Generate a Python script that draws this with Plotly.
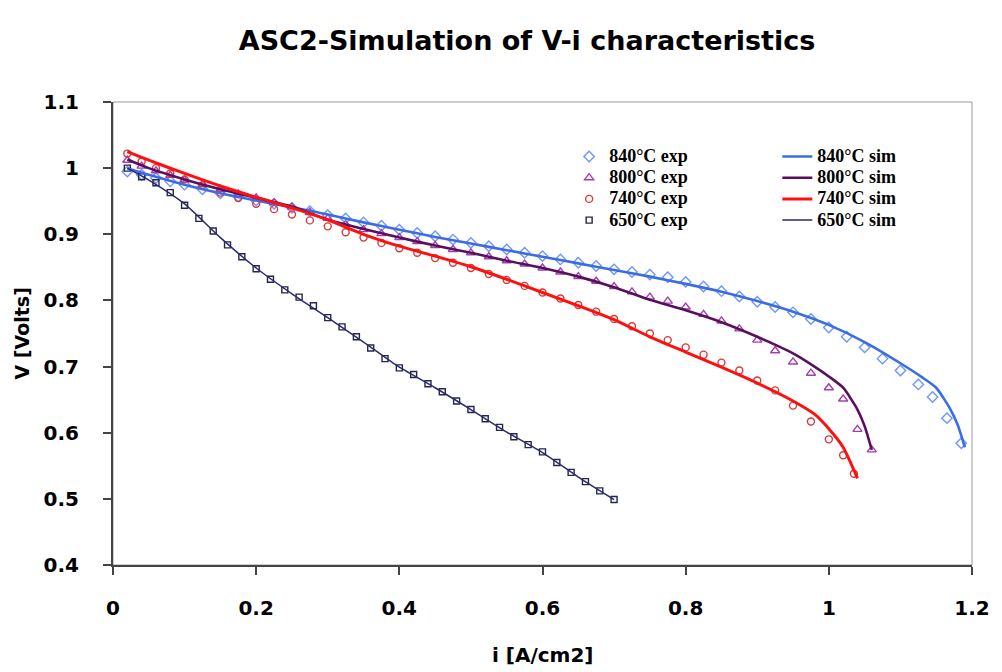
import plotly.graph_objects as go

# ---------------- data ----------------
x_ticks = [0, 0.2, 0.4, 0.6, 0.8, 1.0, 1.2]
x_tick_text = ["0", "0.2", "0.4", "0.6", "0.8", "1", "1.2"]
y_ticks = [0.4, 0.5, 0.6, 0.7, 0.8, 0.9, 1.0, 1.1]
y_tick_text = ["0.4", "0.5", "0.6", "0.7", "0.8", "0.9", "1", "1.1"]

# 840 C experimental
i_840_exp = [0.02, 0.04, 0.06, 0.08, 0.10, 0.125, 0.15, 0.175, 0.20, 0.225, 0.25, 0.275,
             0.30, 0.325, 0.35, 0.375, 0.40, 0.425, 0.45, 0.475, 0.50, 0.525, 0.55, 0.575,
             0.60, 0.625, 0.65, 0.675, 0.70, 0.725, 0.75, 0.775, 0.80, 0.825, 0.85, 0.875,
             0.90, 0.925, 0.95, 0.975, 1.00, 1.025, 1.05, 1.075, 1.10, 1.125, 1.145, 1.165, 1.185]
v_840_exp = [0.995, 0.990, 0.985, 0.980, 0.975, 0.968, 0.962, 0.957, 0.951, 0.946, 0.940, 0.935,
             0.929, 0.924, 0.918, 0.913, 0.907, 0.902, 0.897, 0.892, 0.887, 0.882, 0.877, 0.872,
             0.867, 0.862, 0.857, 0.852, 0.847, 0.843, 0.839, 0.835, 0.828, 0.821, 0.814, 0.806,
             0.798, 0.790, 0.782, 0.772, 0.759, 0.745, 0.729, 0.712, 0.694, 0.673, 0.654, 0.622, 0.584]

# 800 C experimental
i_800_exp = [0.02, 0.04, 0.06, 0.08, 0.10, 0.125, 0.15, 0.175, 0.20, 0.225, 0.25, 0.275,
             0.30, 0.325, 0.35, 0.375, 0.40, 0.425, 0.45, 0.475, 0.50, 0.525, 0.55, 0.575,
             0.60, 0.625, 0.65, 0.675, 0.70, 0.725, 0.75, 0.775, 0.80, 0.825, 0.85, 0.875,
             0.90, 0.925, 0.95, 0.975, 1.00, 1.02, 1.04, 1.06]
v_800_exp = [1.012, 1.003, 0.996, 0.989, 0.982, 0.975, 0.968, 0.961, 0.955, 0.948, 0.941, 0.933,
             0.924, 0.915, 0.907, 0.901, 0.895, 0.889, 0.883, 0.877, 0.872, 0.866, 0.860, 0.855,
             0.849, 0.843, 0.836, 0.829, 0.821, 0.813, 0.805, 0.799, 0.790, 0.779, 0.769, 0.757,
             0.740, 0.724, 0.707, 0.690, 0.668, 0.651, 0.605, 0.574]

# 740 C experimental
i_740_exp = [0.02, 0.04, 0.06, 0.08, 0.10, 0.125, 0.15, 0.175, 0.20, 0.225, 0.25, 0.275,
             0.30, 0.325, 0.35, 0.375, 0.40, 0.425, 0.45, 0.475, 0.50, 0.525, 0.55, 0.575,
             0.60, 0.625, 0.65, 0.675, 0.70, 0.725, 0.75, 0.775, 0.80, 0.825, 0.85, 0.875,
             0.90, 0.925, 0.95, 0.975, 1.00, 1.02, 1.035]
v_740_exp = [1.022, 1.010, 1.000, 0.992, 0.983, 0.974, 0.963, 0.955, 0.946, 0.938, 0.930, 0.921,
             0.912, 0.903, 0.895, 0.887, 0.879, 0.872, 0.864, 0.857, 0.849, 0.840, 0.831, 0.822,
             0.812, 0.803, 0.793, 0.783, 0.772, 0.761, 0.750, 0.740, 0.729, 0.718, 0.706, 0.694,
             0.679, 0.664, 0.641, 0.617, 0.590, 0.566, 0.538]

# 650 C experimental
i_650_exp = [0.02, 0.04, 0.06, 0.08, 0.10, 0.12, 0.14, 0.16, 0.18, 0.20, 0.22, 0.24,
             0.26, 0.28, 0.30, 0.32, 0.34, 0.36, 0.38, 0.40, 0.42, 0.44, 0.46, 0.48,
             0.50, 0.52, 0.54, 0.56, 0.58, 0.60, 0.62, 0.64, 0.66, 0.68, 0.70]
v_650_exp = [1.000, 0.987, 0.978, 0.963, 0.944, 0.924, 0.905, 0.884, 0.866, 0.848, 0.832, 0.816,
             0.805, 0.792, 0.774, 0.760, 0.745, 0.728, 0.712, 0.698, 0.688, 0.674, 0.662, 0.648,
             0.635, 0.621, 0.608, 0.594, 0.582, 0.571, 0.555, 0.540, 0.526, 0.512, 0.499]

# simulations
i_840_sim = [0.02, 0.05, 0.1, 0.15, 0.2, 0.25, 0.3, 0.35, 0.4, 0.45, 0.5, 0.55, 0.6, 0.65,
             0.7, 0.75, 0.8, 0.85, 0.9, 0.95, 1.0, 1.05, 1.1, 1.13, 1.15, 1.17, 1.18, 1.19]
v_840_sim = [1.000, 0.990, 0.975, 0.962, 0.951, 0.941, 0.930, 0.918, 0.907, 0.896, 0.886, 0.876,
             0.866, 0.856, 0.846, 0.836, 0.825, 0.813, 0.799, 0.783, 0.763, 0.737, 0.705, 0.684,
             0.668, 0.635, 0.612, 0.578]

i_800_sim = [0.02, 0.05, 0.1, 0.15, 0.2, 0.25, 0.3, 0.35, 0.4, 0.45, 0.5, 0.55, 0.6, 0.65,
             0.7, 0.75, 0.8, 0.85, 0.9, 0.95, 0.98, 1.0, 1.02, 1.04, 1.05, 1.06]
v_800_sim = [1.013, 1.000, 0.983, 0.968, 0.955, 0.942, 0.922, 0.908, 0.895, 0.883, 0.872, 0.860,
             0.849, 0.836, 0.820, 0.801, 0.785, 0.767, 0.745, 0.720, 0.700, 0.685, 0.668, 0.635,
             0.610, 0.574]

i_740_sim = [0.02, 0.05, 0.1, 0.15, 0.2, 0.25, 0.3, 0.35, 0.4, 0.45, 0.5, 0.55, 0.6, 0.65,
             0.7, 0.75, 0.8, 0.85, 0.9, 0.95, 0.98, 1.0, 1.02, 1.04]
v_740_sim = [1.025, 1.012, 0.992, 0.973, 0.956, 0.940, 0.922, 0.900, 0.882, 0.867, 0.851, 0.832,
             0.812, 0.792, 0.771, 0.745, 0.722, 0.699, 0.675, 0.648, 0.628, 0.606, 0.578, 0.531]

i_650_sim = [0.02, 0.05, 0.1, 0.15, 0.2, 0.25, 0.3, 0.35, 0.4, 0.45, 0.5, 0.55, 0.6, 0.65, 0.7]
v_650_sim = [1.000, 0.982, 0.946, 0.895, 0.849, 0.810, 0.774, 0.737, 0.699, 0.668, 0.635, 0.601,
             0.570, 0.533, 0.499]

# ---------------- figure ----------------
SERIF = "Liberation Serif"
SANS = "DejaVu Sans"
LEG_TXT = '<span style="font-size:18px">{}</span>'

fig = go.Figure()

exp_series = [
    ("840°C exp", i_840_exp, v_840_exp, "diamond-open", "#6f95ff", 8),
    ("800°C exp", i_800_exp, v_800_exp, "triangle-up-open", "#a23fae", 8),
    ("740°C exp", i_740_exp, v_740_exp, "circle-open", "#d83a3a", 7),
    ("650°C exp", i_650_exp, v_650_exp, "square-open", "#26264a", 6),
]
for name, xs, ys, sym, col, sz in exp_series:
    fig.add_trace(go.Scatter(
        x=xs, y=ys, mode="markers", name=LEG_TXT.format(name), legend="legend",
        marker=dict(symbol=sym, size=sz, color=col, line=dict(width=1.4, color=col)),
    ))

sim_series = [
    ("840°C sim", i_840_sim, v_840_sim, "#3b6de0", 2.6),
    ("800°C sim", i_800_sim, v_800_sim, "#5a0f5e", 2.6),
    ("740°C sim", i_740_sim, v_740_sim, "#ff1010", 3.0),
    ("650°C sim", i_650_sim, v_650_sim, "#2a2a70", 1.5),
]
for name, xs, ys, col, w in sim_series:
    fig.add_trace(go.Scatter(
        x=xs, y=ys, mode="lines", name=LEG_TXT.format(name), legend="legend2",
        line=dict(color=col, width=w, shape="spline", smoothing=0.6),
    ))

axis_common = dict(
    showline=True, linecolor="#444444", linewidth=2,
    ticks="outside", ticklen=8, tickwidth=1.5, tickcolor="#444444",
    showgrid=False, zeroline=False,
    tickfont=dict(family=SANS, size=20, color="black", weight="bold"),
)

fig.update_xaxes(range=[0, 1.2], tickvals=x_ticks, ticktext=x_tick_text,
                 ticklabelstandoff=16, **axis_common)
fig.update_yaxes(range=[0.4, 1.1], tickvals=y_ticks, ticktext=y_tick_text,
                 ticklabelstandoff=20, **axis_common)

legend_font = dict(family=SERIF, size=14, color="black", weight="bold")
fig.update_layout(
    width=1002, height=672,
    margin=dict(l=113, r=24, t=102, b=107),
    paper_bgcolor="white", plot_bgcolor="white",
    title=dict(
        text="<b>ASC2-Simulation of V-i characteristics</b>",
        font=dict(family=SANS, size=27, color="black"),
        x=0.526, xanchor="center", xref="container",
        y=0.94, yanchor="middle", yref="container",
    ),
    legend=dict(
        x=0.531, y=0.916, xanchor="left", yanchor="top",
        bgcolor="rgba(255,255,255,0)", borderwidth=0, font=legend_font,
        itemwidth=30, tracegroupgap=0,
    ),
    legend2=dict(
        x=0.7734, y=0.916, xanchor="left", yanchor="top",
        bgcolor="rgba(255,255,255,0)", borderwidth=0, font=legend_font,
        itemwidth=30, tracegroupgap=0,
    ),
    shapes=[dict(type="rect", xref="paper", yref="paper", x0=0, y0=0, x1=1, y1=1,
                 line=dict(color="#9a9a9a", width=1), layer="below")],
    annotations=[
        dict(text="<b>i [A/cm2]</b>", xref="paper", yref="paper", x=0.5, y=-0.194,
             xanchor="center", yanchor="middle", showarrow=False,
             font=dict(family=SANS, size=20, color="black")),
        dict(text="<b>V [Volts]</b>", xref="paper", yref="paper", x=-0.106, y=0.5,
             xanchor="center", yanchor="middle", showarrow=False, textangle=-90,
             font=dict(family=SANS, size=19, color="black")),
    ],
)

fig.write_html("out.html", config={"displayModeBar": False},
               post_script="document.body.style.margin='0';")
